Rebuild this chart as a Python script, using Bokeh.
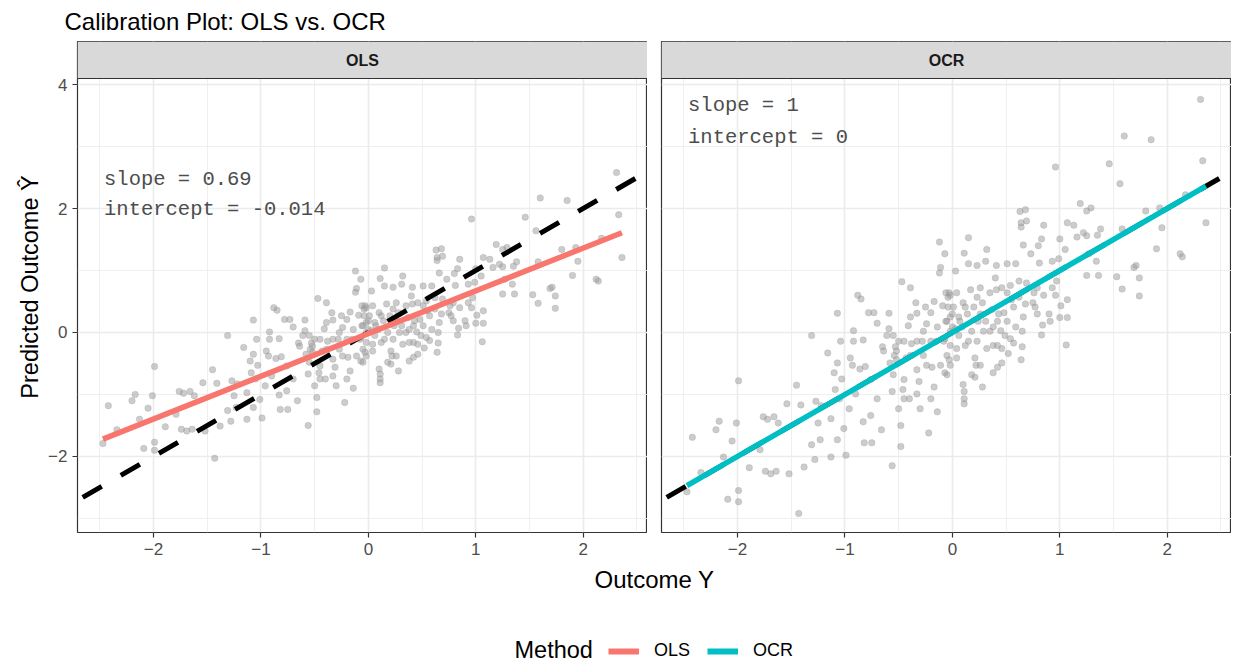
import numpy as np
from bokeh.plotting import figure
from bokeh.models import Range1d, FixedTicker, Grid, Legend, LegendItem, ColumnDataSource
from bokeh.layouts import column, row
from bokeh.core.properties import value
from bokeh.embed import file_html
from bokeh.resources import INLINE

# ---------------- data ----------------
outcome_y = [
    -2.47, -2.42, -2.34, -2.20, -2.17, -2.13, -2.09, -2.05, -2.01, -1.99,
    -1.99, -1.99, -1.89, -1.79, -1.76, -1.74, -1.72, -1.69, -1.66, -1.64,
    -1.62, -1.54, -1.52, -1.45, -1.43, -1.41, -1.38, -1.31, -1.31, -1.28,
    -1.27, -1.25, -1.23, -1.22, -1.16, -1.13, -1.13, -1.10, -1.09, -1.07,
    -1.07, -1.07, -1.05, -1.04, -1.03, -1.01, -0.99, -0.96, -0.95, -0.93,
    -0.92, -0.92, -0.90, -0.88, -0.85, -0.86, -0.83, -0.82, -0.83, -0.81,
    -0.78, -0.76, -0.75, -0.73, -0.70, -0.66, -0.65, -0.64, -0.59, -0.59,
    -0.58, -0.56, -0.56, -0.55, -0.54, -0.53, -0.52, -0.50, -0.50, -0.48,
    -0.48, -0.47, -0.46, -0.45, -0.43, -0.41, -0.40, -0.39, -0.38, -0.34,
    -0.33, -0.33, -0.31, -0.30, -0.28, -0.27, -0.25, -0.24, -0.22, -0.20,
    -0.19, -0.17, -0.17, -0.15, -0.14, -0.12, -0.12, -0.11, -0.09, -0.07,
    -0.07, -0.06, -0.04, -0.03, -0.02,
    2.31, 1.60, 1.85, 0.96, 1.46, 2.33, 1.56, 1.19, 0.63, 0.68,
    0.64, 0.69, 0.64, 0.85, 1.07, 1.13, 1.25, 1.29, 1.38, 1.35,
    1.22, 1.25, 1.16, 1.80, 1.93, 1.95, 2.36, 1.58, 1.90, 2.12,
    2.14, 1.71, 1.69, 1.74, 1.53, 1.58, 1.74, 1.36, 1.25, 1.34,
    1.27, 1.05, 1.00, 0.93, 0.83, 0.80, 0.73, 0.66, 0.81, 0.99,
    0.97, 0.96, 1.01, 1.07, 1.07, 1.00, 1.06, 0.84, 0.83, 0.75,
    0.77, 0.79, 0.90, 0.91, 0.69, 0.62, 0.66, 0.65, 0.64, 0.57,
    0.52, 0.46, 0.42, 0.51, 0.48, 0.51, 0.46, 0.51, 0.59, 0.41,
    0.40, 0.32, 0.31, 0.23, 0.15, 0.15, 0.11, 0.03, 0.17, 0.23,
    0.28, 0.35, 0.37, 0.31, 0.35, 0.42, 0.45, 0.38, 0.32, 0.23,
    0.15, 0.18, 0.21, 0.22, 0.18, 0.21, 0.28, 0.38, 0.42, 0.10,
    0.11, 0.11, 0.11, 0.04, -0.02, -0.05, 0.07, 0.01, -0.03, 0.00,
    0.06, -0.02, 0.14, 0.10, 0.26, 0.57, 0.55, 2.17,
    -0.06, -0.02, 0.04, -0.04, 0.00, 0.06, -0.05, 0.03, 0.09, 0.12,
    0.20, 0.24, 0.29, 0.38, 0.43, 0.49, 0.26, 0.41, 0.54, 0.62,
    0.68, 0.76, 0.85, 0.93, 0.79, 0.65, 0.59, 0.54, 0.46, 0.26,
    0.12, 0.04, -0.07,
    -0.52, -0.45, -0.39, -0.33, -0.27, -0.20, -0.14, -0.08, -0.05, -0.11,
    -0.24, -0.33, -0.45, -0.55, -0.61, -0.39, -0.20, -0.02, -0.76, -0.70,
]

pred_ols = [
    -1.79, -1.18, -1.57, -1.10, -1.00, -1.40, -1.87, -1.22, -1.02, -0.55,
    -1.77, -1.90, -1.52, -1.32, -0.95, -1.56, -0.98, -1.59, -0.95, -1.56,
    -1.02, -0.81, -1.59, -0.60, -2.03, -0.82, -1.51, -0.05, -1.26, -1.43,
    -0.78, -1.02, -1.21, -0.83, -0.24, -0.97, -1.40, -0.46, -0.65, 0.20,
    -0.35, -1.21, -0.75, -0.11, -0.53, -1.08, -1.38, -0.86, -0.30, -0.38,
    -0.11, 0.01, -0.70, 0.40, 0.36, -0.42, -1.01, -1.24, -0.10, -0.39,
    0.21, -0.94, -1.24, 0.21, 0.09, -1.10, -0.17, -0.22, 0.20, 0.03,
    -0.35, -0.67, -1.50, -0.05, -0.27, -0.17, -0.32, -0.11, -0.86, -1.28,
    -1.05, 0.55, -0.65, -0.75, -0.30, 0.06, -0.75, 0.48, -0.14, 0.32,
    0.20, -0.43, -0.56, -0.86, -0.11, -0.27, 0.27, 0.08, -1.13, -0.75,
    -0.40, -0.62, 0.33, -0.11, -0.90, 0.99, 0.65, 0.71, 0.28, 0.86,
    -0.46, 0.11, 0.38, -0.32, 0.16,
    2.58, 2.17, 2.13, 1.83, 1.86, 1.90, 1.64, 1.42, 1.33, 1.35,
    1.21, 1.23, 1.16, 1.18, 1.21, 1.18, 1.34, 1.37, 1.14, 1.07,
    1.10, 1.06, 1.05, 1.34, 1.37, 1.15, 1.21, 1.14, 0.92, 0.86,
    0.83, 0.73, 0.71, 0.59, 0.61, 0.47, 0.39, 0.62, 0.62, 0.78,
    0.86, 0.91, 1.03, 0.78, 1.03, 0.95, 0.86, 0.96, 0.76, 0.81,
    0.56, 0.40, 0.28, 0.35, 0.15, 0.15, -0.15, 0.07, -0.04, 0.32,
    0.27, 0.48, 0.19, 0.11, 0.54, 0.56, 0.16, -0.17, -0.32, -0.13,
    -0.25, -0.19, -0.16, 0.11, 0.21, 0.43, 0.48, 0.75, 0.75, 0.73,
    0.59, 0.91, 0.78, 0.73, 1.04, 0.75, 0.87, 0.67, 0.46, 0.38,
    0.32, 0.43, 0.24, 0.11, 0.00, 0.11, 0.01, -0.16, -0.19, -0.11,
    -0.11, 0.00, -0.30, -0.38, -0.48, -0.51, -0.62, -0.46, -0.40, -0.59,
    -0.67, -0.75, -0.81, -0.30, -0.38, -0.48, 0.11, 0.27, 0.43, 0.05,
    -0.05, -0.16, 0.19, 0.32, 0.19, 0.27, 0.35, 1.52,
    0.43, 0.40, 0.43, 0.27, 0.19, 0.16, 0.11, 0.03, 0.05, 0.27,
    0.27, 0.11, 0.00, 0.05, 0.19, -0.05, 0.48, 0.46, 0.51, 0.38,
    0.30, 0.43, 0.40, 0.48, 0.19, 0.00, 0.05, -0.08, -0.35, -0.38,
    -0.16, -0.19, -0.08,
    -0.22, -0.11, -0.27, -0.11, 0.00, -0.11, 0.05, -0.11, -0.27, -0.38,
    -0.38, -0.70, -0.54, -0.48, -0.05, 0.16, 0.21, 0.00, -0.54, -0.75,
]

pred_ocr = [
    -2.57, -1.69, -2.26, -1.57, -1.43, -2.01, -2.69, -1.75, -1.46, -0.78,
    -2.55, -2.73, -2.18, -1.89, -1.36, -2.24, -1.40, -2.28, -1.36, -2.24,
    -1.46, -1.15, -2.28, -0.85, -2.92, -1.17, -2.17, -0.05, -1.81, -2.05,
    -1.11, -1.46, -1.73, -1.18, -0.33, -1.39, -2.01, -0.65, -0.92, 0.31,
    -0.49, -1.73, -1.07, -0.14, -0.75, -1.55, -1.98, -1.23, -0.41, -0.53,
    -0.14, 0.03, -0.99, 0.60, 0.54, -0.59, -1.44, -1.78, -0.12, -0.55,
    0.32, -1.34, -1.78, 0.32, 0.15, -1.57, -0.23, -0.30, 0.31, 0.06,
    -0.49, -0.95, -2.15, -0.05, -0.37, -0.23, -0.44, -0.14, -1.23, -1.84,
    -1.50, 0.82, -0.92, -1.07, -0.41, 0.11, -1.07, 0.72, -0.18, 0.48,
    0.31, -0.60, -0.79, -1.23, -0.14, -0.37, 0.41, 0.14, -1.62, -1.07,
    -0.56, -0.88, 0.50, -0.14, -1.28, 1.46, 0.96, 1.05, 0.43, 1.27,
    -0.65, 0.18, 0.57, -0.44, 0.25,
    3.76, 3.17, 3.11, 2.67, 2.72, 2.77, 2.40, 2.08, 1.95, 1.98,
    1.77, 1.80, 1.70, 1.73, 1.77, 1.73, 1.96, 2.01, 1.67, 1.57,
    1.61, 1.56, 1.54, 1.96, 2.01, 1.69, 1.77, 1.67, 1.35, 1.27,
    1.22, 1.08, 1.05, 0.88, 0.90, 0.70, 0.59, 0.92, 0.92, 1.15,
    1.27, 1.34, 1.51, 1.15, 1.51, 1.40, 1.27, 1.41, 1.12, 1.19,
    0.83, 0.60, 0.43, 0.53, 0.24, 0.24, -0.20, 0.12, -0.04, 0.48,
    0.41, 0.72, 0.30, 0.18, 0.80, 0.83, 0.25, -0.23, -0.44, -0.17,
    -0.34, -0.26, -0.21, 0.18, 0.32, 0.64, 0.72, 1.11, 1.11, 1.08,
    0.88, 1.34, 1.15, 1.08, 1.53, 1.11, 1.28, 0.99, 0.69, 0.57,
    0.48, 0.64, 0.37, 0.18, 0.02, 0.18, 0.03, -0.21, -0.26, -0.14,
    -0.14, 0.02, -0.41, -0.53, -0.68, -0.72, -0.88, -0.65, -0.56, -0.84,
    -0.95, -1.07, -1.15, -0.41, -0.53, -0.68, 0.18, 0.41, 0.64, 0.09,
    -0.05, -0.21, 0.30, 0.48, 0.30, 0.41, 0.53, 2.22,
    0.64, 0.60, 0.64, 0.41, 0.30, 0.25, 0.18, 0.06, 0.09, 0.41,
    0.41, 0.18, 0.02, 0.09, 0.30, -0.05, 0.72, 0.69, 0.76, 0.57,
    0.46, 0.64, 0.60, 0.72, 0.30, 0.02, 0.09, -0.10, -0.49, -0.53,
    -0.21, -0.26, -0.10,
    -0.30, -0.14, -0.37, -0.14, 0.02, -0.14, 0.09, -0.14, -0.37, -0.53,
    -0.53, -0.99, -0.76, -0.68, -0.05, 0.25, 0.32, 0.02, -0.76, -1.07,
]

methods = ["OLS", "OCR"]
method_colors = ["#F8766D", "#00BFC4"]
fit_x = [-2.47, 2.36]
fit_y_ols = [-1.72, 1.61]
fit_y_ocr = [-2.47, 2.36]
ann_ols = ["slope = 0.69", "intercept = -0.014"]
ann_ocr = ["slope = 1", "intercept = 0"]
ann_x = -2.46
ann_y_ols = [2.47, 1.98]
ann_y_ocr = [3.655, 3.145]

x_major = [-2, -1, 0, 1, 2]
x_minor = [-2.5, -1.5, -0.5, 0.5, 1.5, 2.5]
y_major = [-2, 0, 2, 4]
y_minor = [-3, -1, 1, 3]

# ---------------- style / layout ----------------
SANS = "Liberation Sans"
MONO = "Liberation Mono"
XR = (-2.707, 2.598)
YR = (-3.226, 4.097)
FW, FH = 570, 454
STRIP_PX = 37
Y_TOP = YR[1] + STRIP_PX * (YR[1] - YR[0]) / FH   # strip sits above the panel
GRID = "#EBEBEB"
DARK = "#333333"
W = 1231


def panel(label, pred, fit_y, color, ann, ann_y, left_axis):
    p = figure(frame_width=FW, frame_height=FH + STRIP_PX,
               x_range=Range1d(*XR), y_range=Range1d(YR[0], Y_TOP),
               toolbar_location=None, output_backend="svg",
               y_axis_location="left" if left_axis else None,
               min_border_left=77 if left_axis else 14, min_border_right=0,
               min_border_top=0, min_border_bottom=34,
               outline_line_color=DARK, outline_line_width=1.2)
    p.xgrid.ticker = FixedTicker(ticks=x_major, minor_ticks=x_minor)
    if len(p.ygrid) == 0:
        p.add_layout(Grid(dimension=1, ticker=FixedTicker(ticks=y_major, minor_ticks=y_minor)))
    else:
        p.ygrid.ticker = FixedTicker(ticks=y_major, minor_ticks=y_minor)
    for g in p.grid:
        g.grid_line_color = GRID
        g.grid_line_width = 1.6
        g.minor_grid_line_color = GRID
        g.minor_grid_line_width = 0.8
    p.xaxis.ticker = FixedTicker(ticks=x_major, minor_ticks=x_minor)
    for ax in p.axis:
        ax.axis_line_color = None
        ax.major_tick_line_color = DARK
        ax.major_tick_line_width = 1.2
        ax.major_tick_out = 5
        ax.major_tick_in = 0
        ax.minor_tick_line_color = None
        ax.major_label_text_font = SANS
        ax.major_label_text_font_size = "17px"
        ax.major_label_text_color = "#4D4D4D"
        ax.major_label_standoff = 5
    if left_axis:
        p.yaxis.ticker = FixedTicker(ticks=y_major, minor_ticks=y_minor)
        p.yaxis.axis_label = "Predicted Outcome Ŷ"
        p.yaxis.axis_label_text_font = SANS
        p.yaxis.axis_label_text_font_size = "23.5px"
        p.yaxis.axis_label_text_font_style = "normal"
        p.yaxis.axis_label_text_color = "#000000"
        p.yaxis.axis_label_standoff = 2

    src = ColumnDataSource(dict(x=outcome_y, y=pred))
    p.scatter(x="x", y="y", source=src, size=6.5, fill_color="#999999", fill_alpha=0.5,
              line_color="#999999", line_alpha=0.35, line_width=0.8)
    # reference line y = x across the panel
    p.line(x=list(XR), y=list(XR), line_color="#000000", line_width=5,
           line_dash="22 22", line_dash_offset=38)
    # fitted calibration line
    p.line(x=fit_x, y=fit_y, line_color=color, line_width=5.5)
    p.text(x=[ann_x, ann_x], y=ann_y, text=ann, text_font=value(MONO),
           text_font_size="20.5px", text_color="#4D4D4D", text_baseline="middle",
           text_align="left")
    # facet strip
    p.quad(left=[XR[0]], right=[XR[1]], bottom=[YR[1]], top=[Y_TOP],
           fill_color="#D9D9D9", line_color=None)
    p.line(x=list(XR), y=[YR[1], YR[1]], line_color=DARK, line_width=1.2)
    p.text(x=[(XR[0] + XR[1]) / 2], y=[(YR[1] + Y_TOP) / 2], text=[label],
           text_align="center", text_baseline="middle", text_font=value(SANS),
           text_font_style="bold", text_font_size="16px", text_color="#1A1A1A")
    return p


p_ols = panel(methods[0], pred_ols, fit_y_ols, method_colors[0], ann_ols, ann_y_ols, True)
p_ocr = panel(methods[1], pred_ocr, fit_y_ocr, method_colors[1], ann_ocr, ann_y_ocr, False)

# header with the title
HH = 41
header = figure(width=W, height=HH, x_range=Range1d(0, W), y_range=Range1d(HH, 0),
                x_axis_location=None, y_axis_location=None, toolbar_location=None,
                output_backend="svg", min_border=0, outline_line_color=None)
header.grid.visible = False
header.text(x=[64], y=[20.7], text=["Calibration Plot: OLS vs. OCR"], text_font=value(SANS),
            text_font_size="24px", text_color="#000000", text_baseline="alphabetic",
            text_align="left")

# footer with the x-axis title and the legend
FT = 96
footer = figure(width=W, height=FT, x_range=Range1d(0, W), y_range=Range1d(FT, 0),
                x_axis_location=None, y_axis_location=None, toolbar_location=None,
                output_backend="svg", min_border=0, outline_line_color=None)
footer.grid.visible = False
footer.text(x=[654], y=[13], text=["Outcome Y"], text_font=value(SANS), text_font_size="24px",
            text_color="#000000", text_baseline="middle", text_align="center")
footer.text(x=[514], y=[83], text=["Method"], text_font=value(SANS), text_font_size="23.5px",
            text_color="#000000", text_baseline="middle", text_align="left")
r1 = footer.line(x=np.array([np.nan]), y=np.array([np.nan]), line_color=method_colors[0], line_width=6)
r2 = footer.line(x=np.array([np.nan]), y=np.array([np.nan]), line_color=method_colors[1], line_width=6)
legend = Legend(items=[LegendItem(label=methods[0], renderers=[r1]),
                       LegendItem(label=methods[1], renderers=[r2])],
                orientation="horizontal", location=(608, 1), padding=0, margin=0,
                border_line_color=None, background_fill_alpha=0,
                label_text_font=SANS, label_text_font_size="18px", label_text_color="#000000",
                label_standoff=15, glyph_width=31, glyph_height=20, label_height=20,
                spacing=17)
footer.add_layout(legend)

layout = column(header, row(p_ols, p_ocr), footer)

open("out.html", "w").write(file_html(layout, INLINE))
